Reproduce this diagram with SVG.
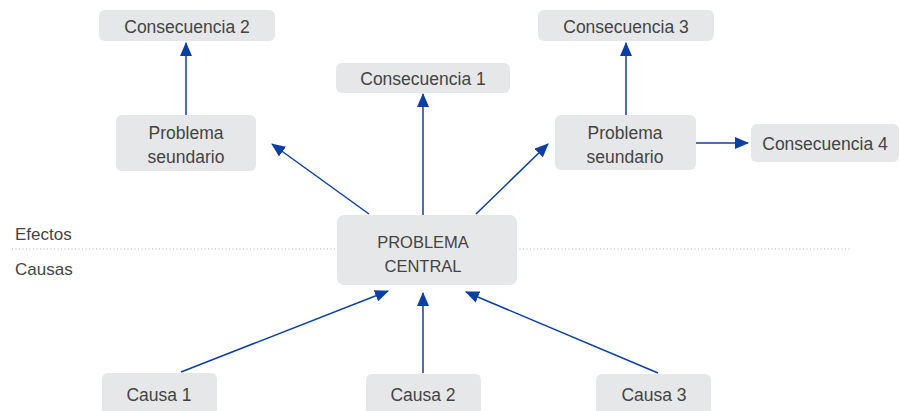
<svg xmlns="http://www.w3.org/2000/svg" width="900" height="411" viewBox="0 0 900 411">
<style>
.box{fill:#e6e7e8;}
.t{font-family:"Liberation Sans",Arial,sans-serif;font-size:17.5px;fill:#444;text-anchor:middle;}
.u{font-size:16.5px;}
.l{font-family:"Liberation Sans",Arial,sans-serif;font-size:17px;fill:#444;}
.c{stroke:#0c3fa6;stroke-width:1.5;fill:none;marker-end:url(#ah);}
</style>
<defs>
<marker id="ah" viewBox="0 0 14 12" refX="13" refY="6" markerWidth="14" markerHeight="12" markerUnits="userSpaceOnUse" orient="auto">
<path d="M0,0 L14,6 L0,12 Z" fill="#0c3fa6"/>
</marker>
</defs>
<line x1="12" y1="249" x2="850" y2="249" stroke="#aaa" stroke-width="1" stroke-dasharray="1,2.5"/>
<text class="l" x="15" y="240">Efectos</text>
<text class="l" x="15" y="275">Causas</text>
<g id="connectors">
<line class="c" x1="186" y1="115" x2="186" y2="43"/>
<line class="c" x1="626" y1="115" x2="626" y2="43"/>
<line class="c" x1="423" y1="215" x2="423" y2="94"/>
<line class="c" x1="369" y1="214" x2="272" y2="144"/>
<line class="c" x1="476" y1="214" x2="548" y2="144"/>
<line class="c" x1="696" y1="143" x2="748" y2="143"/>
<line class="c" x1="181" y1="372" x2="388" y2="291"/>
<line class="c" x1="423" y1="373" x2="423" y2="293"/>
<line class="c" x1="658" y1="373" x2="466" y2="292"/>
</g>
<g id="cons2"><rect class="box" x="99" y="10" width="176" height="31" rx="6"/><text class="t" x="187" y="33">Consecuencia 2</text></g>
<g id="cons3"><rect class="box" x="538" y="10" width="176" height="31" rx="6"/><text class="t" x="626" y="33">Consecuencia 3</text></g>
<g id="cons1"><rect class="box" x="336" y="63" width="174" height="30" rx="6"/><text class="t" x="423" y="85">Consecuencia 1</text></g>
<g id="cons4"><rect class="box" x="751" y="124" width="148" height="38" rx="6"/><text class="t" x="825" y="150">Consecuencia 4</text></g>
<g id="prob2a"><rect class="box" x="116" y="115" width="140" height="56" rx="6"/><text class="t" x="186" y="139">Problema</text><text class="t" x="186" y="163">seundario</text></g>
<g id="prob2b"><rect class="box" x="555" y="115" width="141" height="55" rx="6"/><text class="t" x="625" y="139">Problema</text><text class="t" x="625" y="163">seundario</text></g>
<g id="central"><rect class="box" x="337" y="215" width="180" height="70" rx="7"/><text class="t u" x="423" y="248">PROBLEMA</text><text class="t u" x="423" y="272">CENTRAL</text></g>
<g id="causa1"><rect class="box" x="102" y="373" width="115" height="45" rx="6"/><text class="t" x="159" y="401">Causa 1</text></g>
<g id="causa2"><rect class="box" x="366" y="374" width="115" height="45" rx="6"/><text class="t" x="423" y="401">Causa 2</text></g>
<g id="causa3"><rect class="box" x="596" y="374" width="115" height="45" rx="6"/><text class="t" x="654" y="401">Causa 3</text></g>
</svg>
